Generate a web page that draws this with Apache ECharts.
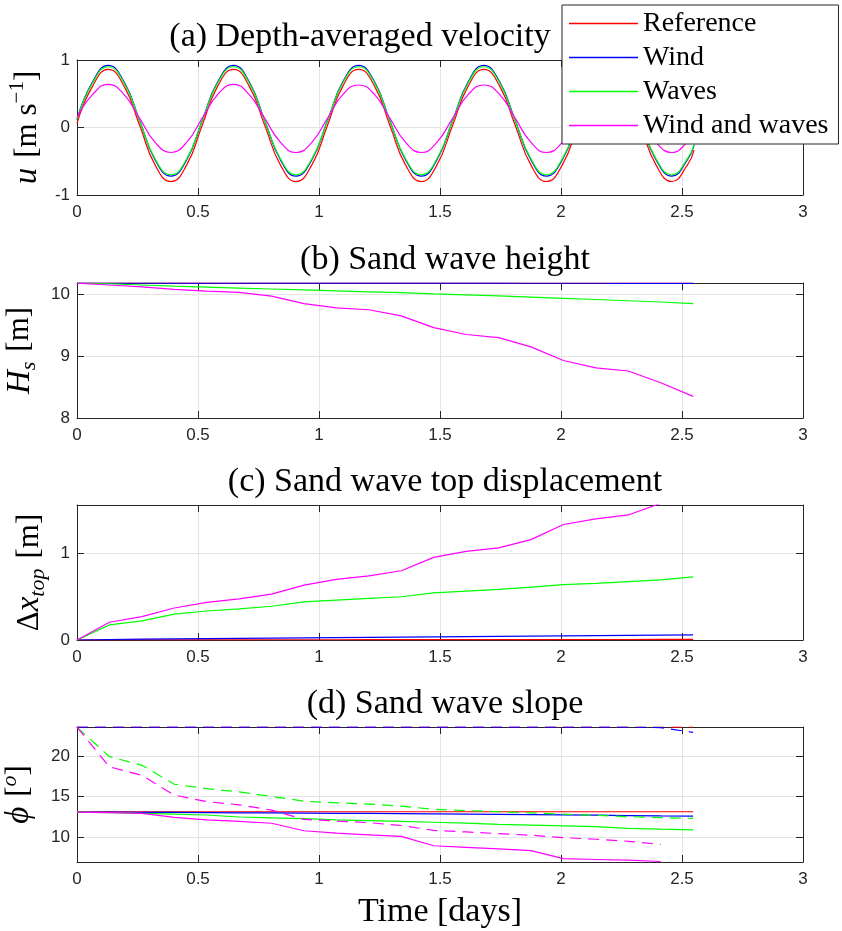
<!DOCTYPE html>
<html>
<head>
<meta charset="utf-8">
<script src="https://cdn.jsdelivr.net/npm/echarts@6/dist/echarts.min.js"></script>
<style>html,body{margin:0;padding:0;background:#fff;}#c{width:842px;height:931px;}</style>
</head>
<body>
<div id="c"></div>
<script>
// ---- (a) depth-averaged velocity ----
const tA = [0,0.065,0.129,0.194,0.259,0.323,0.388,0.453,0.517,0.582,0.647,0.711,0.776,0.841,0.905,0.970,1.035,1.099,1.164,1.229,1.293,1.358,1.423,1.487,1.552,1.617,1.681,1.746,1.811,1.876,1.940,2.005,2.070,2.134,2.199,2.264,2.328,2.393,2.458,2.522,2.55];
const uRef   = [0.06,0.617,0.86,0.617,0.03,-0.557,-0.8,-0.557, 0.03,0.617,0.86,0.617,0.03,-0.557,-0.8,-0.557, 0.03,0.617,0.86,0.617,0.03,-0.557,-0.8,-0.557, 0.03,0.617,0.86,0.617,0.03,-0.557,-0.8,-0.557, 0.03,0.617,0.86,0.617,0.03,-0.557,-0.8,-0.557, -0.335];
const uWind  = [0.12,0.68,0.92,0.68,0.10,-0.48,-0.72,-0.48, 0.10,0.68,0.92,0.68,0.10,-0.48,-0.72,-0.48, 0.10,0.68,0.92,0.68,0.10,-0.48,-0.72,-0.48, 0.10,0.68,0.92,0.68,0.10,-0.48,-0.72,-0.48, 0.10,0.68,0.92,0.68,0.10,-0.48,-0.72,-0.48, -0.26];
const uWaves = [0.12,0.666,0.90,0.666,0.10,-0.466,-0.70,-0.466, 0.10,0.666,0.90,0.666,0.10,-0.466,-0.70,-0.466, 0.10,0.666,0.90,0.666,0.10,-0.466,-0.70,-0.466, 0.10,0.666,0.90,0.666,0.10,-0.466,-0.70,-0.466, 0.10,0.666,0.90,0.666,0.10,-0.466,-0.70,-0.466, -0.25];
const uBoth  = [0.15,0.49,0.64,0.49,0.135,-0.22,-0.37,-0.22, 0.135,0.49,0.64,0.49,0.135,-0.22,-0.37,-0.22, 0.135,0.49,0.63,0.49,0.135,-0.22,-0.37,-0.22, 0.135,0.49,0.63,0.49,0.135,-0.22,-0.37,-0.22, 0.135,0.49,0.63,0.49,0.135,-0.22,-0.37,-0.22, -0.087];

// ---- time of morphodynamic steps (b,c,d) ----
const tB = [0,0.134,0.268,0.402,0.536,0.670,0.804,0.938,1.072,1.206,1.340,1.474,1.608,1.742,1.876,2.010,2.144,2.278,2.412,2.546];

// ---- (b) sand wave height ----
const hRef   = [10.18,10.18,10.18,10.18,10.18,10.18,10.18,10.18,10.18,10.18,10.18,10.18,10.18,10.18,10.18,10.18,10.18,10.18,10.181,10.182];
const hWind  = [10.18,10.18,10.18,10.18,10.18,10.18,10.18,10.18,10.18,10.18,10.179,10.179,10.179,10.179,10.178,10.178,10.178,10.177,10.177,10.176];
const hWaves = [10.18,10.17,10.15,10.13,10.115,10.10,10.085,10.07,10.055,10.04,10.025,10.005,9.99,9.975,9.955,9.935,9.915,9.895,9.875,9.85];
const hBoth  = [10.18,10.15,10.12,10.08,10.05,10.03,9.97,9.85,9.78,9.75,9.65,9.46,9.35,9.30,9.15,8.93,8.81,8.76,8.57,8.35];

// ---- (c) sand wave top displacement ----
const dRef   = [0,0.001,0.001,0.002,0.002,0.002,0.003,0.003,0.003,0.004,0.004,0.004,0.005,0.005,0.005,0.006,0.006,0.006,0.007,0.007];
const dWind  = [0,0.006,0.009,0.012,0.015,0.018,0.021,0.024,0.027,0.030,0.033,0.036,0.039,0.042,0.045,0.048,0.051,0.054,0.057,0.060];
const dWaves = [0,0.175,0.22,0.30,0.335,0.36,0.39,0.44,0.46,0.48,0.50,0.545,0.565,0.585,0.61,0.64,0.655,0.675,0.695,0.73];
const dBoth  = [0,0.205,0.27,0.37,0.435,0.475,0.53,0.635,0.70,0.74,0.80,0.955,1.025,1.065,1.16,1.335,1.40,1.445,1.58,1.75];

// ---- (d) sand wave slope: solid and dashed ----
const sRef   = [13.1,13.1,13.1,13.1,13.1,13.1,13.1,13.1,13.1,13.1,13.1,13.1,13.1,13.1,13.1,13.1,13.1,13.1,13.1,13.1];
const sWind  = [13.07,13.05,13.03,13.01,12.99,12.97,12.95,12.93,12.91,12.89,12.87,12.84,12.81,12.78,12.75,12.71,12.67,12.63,12.58,12.55];
const sWaves = [13.05,13.0,12.9,12.8,12.7,12.45,12.35,12.25,12.1,12.0,11.9,11.8,11.7,11.55,11.45,11.35,11.25,11.05,10.95,10.86];
const sBoth  = [13.05,13.0,12.9,12.4,12.1,11.9,11.68,10.75,10.45,10.25,10.05,8.9,8.7,8.5,8.3,7.3,7.2,7.12,6.95,null];
const sRefD   = [23.55,23.55,23.55,23.55,23.55,23.55,23.55,23.55,23.55,23.55,23.55,23.55,23.55,23.55,23.55,23.55,23.55,23.55,23.56,23.57];
const sWindD  = [23.55,23.55,23.55,23.55,23.55,23.55,23.55,23.55,23.55,23.55,23.55,23.55,23.55,23.55,23.55,23.55,23.55,23.55,23.5,22.9];
const sWavesD = [23.55,19.9,18.85,16.5,15.95,15.55,15.0,14.4,14.2,14.05,13.8,13.4,13.25,13.1,12.95,12.8,12.65,12.5,12.38,12.28];
const sBothD  = [23.55,18.65,17.6,15.15,14.35,13.95,13.3,12.15,11.95,11.75,11.4,10.8,10.6,10.4,10.2,9.9,9.7,9.45,9.05,null];

const names = ['Reference','Wind','Waves','Wind and waves'];
const colors = ['#ff0000','#0000ff','#00ff00','#ff00ff'];
const titles = ['(a) Depth-averaged velocity','(b) Sand wave height','(c) Sand wave top displacement','(d) Sand wave slope'];
const xTicks = [0,0.5,1,1.5,2,2.5,3];

const SERIF = 'Liberation Serif';
const SANS = 'Liberation Sans';
const AX = '#262626';
const gridTops = [60,283,505,727];
const GH = 135, GL = 77, GW = 726;

function zip(t, v){ return t.map((x,i)=>[x, v[i]]); }

const grids = gridTops.map(t => ({left: GL, top: t, width: GW, height: GH, containLabel: false, outerBoundsMode: 'none'}));

const xAxes = [];
const yAxes = [];
for (let g = 0; g < 4; g++) {
  xAxes.push({
    type:'value', gridIndex:g, position:'bottom', min:0, max:3, interval:0.5,
    axisLine:{show:true, onZero:false, lineStyle:{color:AX, width:1}},
    axisTick:{show:true, inside:true, length:7, lineStyle:{color:AX}},
    axisLabel:{show:true, color:AX, fontFamily:SANS, fontSize:17, margin:9,
      formatter: v => (xTicks.indexOf(v) >= 0 ? String(v) : '')},
    splitLine:{show:true, lineStyle:{color:'#e4e4e4', width:1}},
    name: g===3 ? 'Time [days]' : '', nameLocation:'middle', nameGap:33,
    nameTextStyle:{fontFamily:SERIF, fontSize:34, color:'#000'}
  });
  xAxes.push({
    type:'value', gridIndex:g, position:'top', min:0, max:3, interval:0.5,
    axisLine:{show:true, onZero:false, lineStyle:{color:AX, width:1}},
    axisTick:{show:true, inside:true, length:7, lineStyle:{color:AX}},
    axisLabel:{show:false}, splitLine:{show:false}
  });
}

const rich = {
  it:{fontFamily:SERIF, fontStyle:'italic', fontSize:33, color:'#000', lineHeight:40},
  rm:{fontFamily:SERIF, fontSize:31, color:'#000', lineHeight:40},
  sp:{fontFamily:SERIF, fontSize:31, color:'#000', lineHeight:40, width:10},
  sup:{fontFamily:SERIF, fontSize:21, color:'#000', verticalAlign:'top', lineHeight:24},
  supi:{fontFamily:SERIF, fontStyle:'italic', fontSize:22, color:'#000', verticalAlign:'top', lineHeight:26},
  sub:{fontFamily:SERIF, fontStyle:'italic', fontSize:22, color:'#000', verticalAlign:'bottom', lineHeight:24}
};
const yCfg = [
  {min:-1, max:1, interval:1, step:1, name:'{it|u}{sp| }{rm|[m s}{sup|−1}{rm|]}', gap:26},
  {min:8, max:10.182, interval:1, step:1, name:'{it|H}{sub|s}{sp| }{rm|[m]}', gap:30},
  {min:0, max:1.56, interval:1, step:1, name:'{rm|Δ}{it|x}{sub|top}{sp| }{rm|[m]}', gap:26},
  {min:6.89, max:23.57, splitNumber:3, step:5, name:'{it|ϕ}{sp| }{rm|[}{supi|o}{rm|]}', gap:38}
];
yCfg.forEach((c, g) => {
  const base = {type:'value', gridIndex:g, min:c.min, max:c.max};
  if (c.interval) base.interval = c.interval; else base.splitNumber = c.splitNumber;
  yAxes.push(Object.assign({}, base, {
    position:'left',
    axisLine:{show:true, onZero:false, lineStyle:{color:AX, width:1}},
    axisTick:{show:true, inside:true, length:7, lineStyle:{color:AX}},
    axisLabel:{show:true, color:AX, fontFamily:SANS, fontSize:17, margin:7,
      formatter: v => (Math.abs(v/c.step - Math.round(v/c.step)) < 1e-9 ? String(v) : '')},
    splitLine:{show:true, lineStyle:{color:'#e4e4e4', width:1}},
    name:c.name, nameLocation:'middle', nameGap:c.gap,
    nameTextStyle:{rich: rich}
  }));
  yAxes.push(Object.assign({}, base, {
    position:'right',
    axisLine:{show:true, onZero:false, lineStyle:{color:AX, width:1}},
    axisTick:{show:true, inside:true, length:7, lineStyle:{color:AX}},
    axisLabel:{show:false}, splitLine:{show:false}
  }));
});

const series = [];
function addLines(g, t, arrs, opts) {
  arrs.forEach((arr, i) => {
    const s = {
      type:'line', name:names[i], xAxisIndex:2*g, yAxisIndex:2*g,
      data: zip(t, arr), symbol:'none', showSymbol:false, connectNulls:false,
      clip:true, animation:false, legendIcon:'rect',
      lineStyle:{color:colors[i], width:1.2, type:'solid'},
      itemStyle:{color:colors[i]}
    };
    if (opts && opts.smooth) s.smooth = opts.smooth;
    if (opts && opts.dashed) s.lineStyle.type = [11, 7];
    series.push(s);
  });
}
addLines(0, tA, [uRef,uWind,uWaves,uBoth], {smooth:0.5});
addLines(1, tB, [hRef,hWind,hWaves,hBoth]);
addLines(2, tB, [dRef,dWind,dWaves,dBoth]);
addLines(3, tB, [sRef,sWind,sWaves,sBoth]);
addLines(3, tB, [sRefD,sWindD,sWavesD,sBothD], {dashed:true});

const titleTops = [15, 238, 460, 682];
const titleLefts = [355, 440, 440, 440];
const option = {
  animation:false,
  backgroundColor:'#fff',
  title: titles.map((t,i)=>({text:t, left:titleLefts[i], top:titleTops[i], textAlign:'center',
    textStyle:{fontFamily:SERIF, fontSize:34, fontWeight:'normal', color:'#000'}})),
  grid: grids,
  xAxis: xAxes,
  yAxis: yAxes,
  legend: {
    data: names, orient:'vertical', left:562, top:5,
    icon:'rect', itemWidth:69, itemHeight:1.5, itemGap:5, padding:[4,10,4,7],
    backgroundColor:'#fff', borderColor:AX, borderWidth:1,
    textStyle:{fontFamily:SERIF, fontSize:28, color:'#000', lineHeight:29},
    selectedMode:false, z:10
  },
  series: series
};
const chart = echarts.init(document.getElementById('c'), null, {renderer:'canvas'});
chart.setOption(option);
</script>
</body>
</html>
